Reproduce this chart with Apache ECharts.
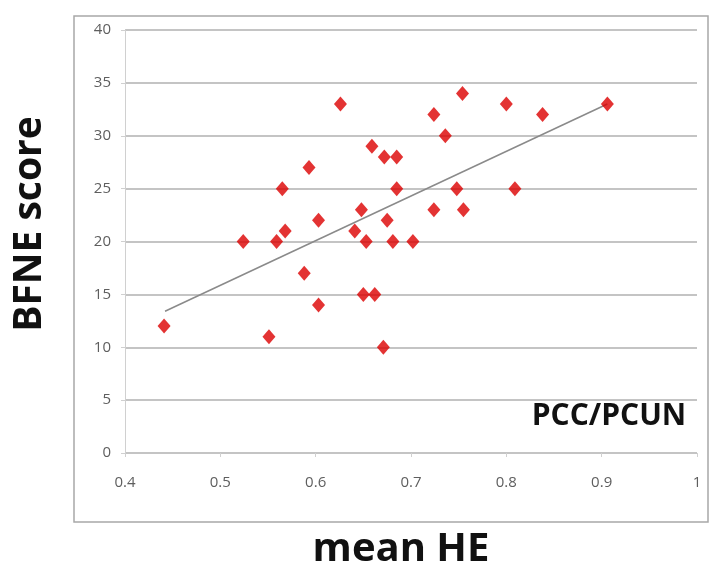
<!DOCTYPE html>
<html>
<head>
<meta charset="utf-8">
<script src="https://cdn.jsdelivr.net/npm/echarts@6/dist/echarts.min.js"></script>
<style>
  html, body { margin: 0; padding: 0; background: #fff; }
  #main { width: 712px; height: 567px; }
</style>
</head>
<body>
<div id="main"></div>
<script>
// mean HE (x) and BFNE score (y) of each subject
const heX = [0.441, 0.524, 0.565, 0.559, 0.568, 0.551, 0.593, 0.603, 0.588, 0.603,
             0.626, 0.641, 0.648, 0.653, 0.650, 0.662, 0.659, 0.672, 0.685, 0.685,
             0.675, 0.681, 0.671, 0.702, 0.724, 0.736, 0.724, 0.754, 0.748, 0.755,
             0.800, 0.809, 0.838, 0.906];
const bfne = [12, 20, 25, 20, 21, 11, 27, 22, 17, 14,
              33, 21, 23, 20, 15, 15, 29, 28, 28, 25,
              22, 20, 10, 20, 32, 30, 23, 34, 25, 23,
              33, 25, 32, 33];

// linear trend line ends
const trendX = [0.442, 0.906];
const trendY = [13.4, 33.0];

const points = heX.map((x, i) => [x, bfne[i]]);
const trend = trendX.map((x, i) => [x, trendY[i]]);

const tickFont = { fontFamily: 'Open Sans', fontSize: 15, color: '#5e5e5e' };
const gridColor = '#c4c4c4';

const chart = echarts.init(document.getElementById('main'));
chart.setOption({
    animation: false,
    grid: { left: 125, right: 15, top: 30, bottom: 114 },
    xAxis: {
        type: 'value',
        min: 0.4,
        max: 1,
        interval: 0.1,
        axisLine: { show: false },
        axisTick: { show: true, length: 4, lineStyle: { color: '#d0d0d0' } },
        axisLabel: Object.assign({ margin: 22 }, tickFont),
        splitLine: { show: false }
    },
    yAxis: {
        type: 'value',
        min: 0,
        max: 40,
        interval: 5,
        axisLine: { show: true, lineStyle: { color: '#d0d0d0', width: 1 } },
        axisTick: { show: true, length: 4, lineStyle: { color: '#d0d0d0' } },
        axisLabel: Object.assign({ margin: 14 }, tickFont),
        splitLine: { show: true, lineStyle: { color: gridColor, width: 2 } }
    },
    series: [
        {
            type: 'line',
            data: trend,
            symbol: 'none',
            lineStyle: { color: '#8a8a8a', width: 1.5 },
            z: 2
        },
        {
            type: 'scatter',
            data: points,
            symbol: 'diamond',
            symbolSize: [13, 15],
            itemStyle: { color: '#dc0000' },
            z: 3
        }
    ],
    graphic: [
        {
            type: 'rect',
            shape: { x: 74, y: 16, width: 634, height: 506 },
            style: { fill: 'none', stroke: '#a8a8a8', lineWidth: 1.5 },
            silent: true
        },
        {
            type: 'text',
            x: 30, y: 224,
            rotation: Math.PI / 2,
            style: {
                text: 'BFNE score',
                font: 'bold 39px "Open Sans"',
                fill: '#111',
                align: 'center',
                verticalAlign: 'middle'
            }
        },
        {
            type: 'text',
            x: 401, y: 550,
            style: {
                text: 'mean HE',
                font: 'bold 40px "Open Sans"',
                fill: '#111',
                align: 'center',
                verticalAlign: 'middle'
            }
        },
        {
            type: 'text',
            x: 609, y: 416,
            style: {
                text: 'PCC/PCUN',
                font: 'bold 30px "Open Sans"',
                fill: '#111',
                align: 'center',
                verticalAlign: 'middle'
            }
        }
    ]
});
</script>
</body>
</html>
